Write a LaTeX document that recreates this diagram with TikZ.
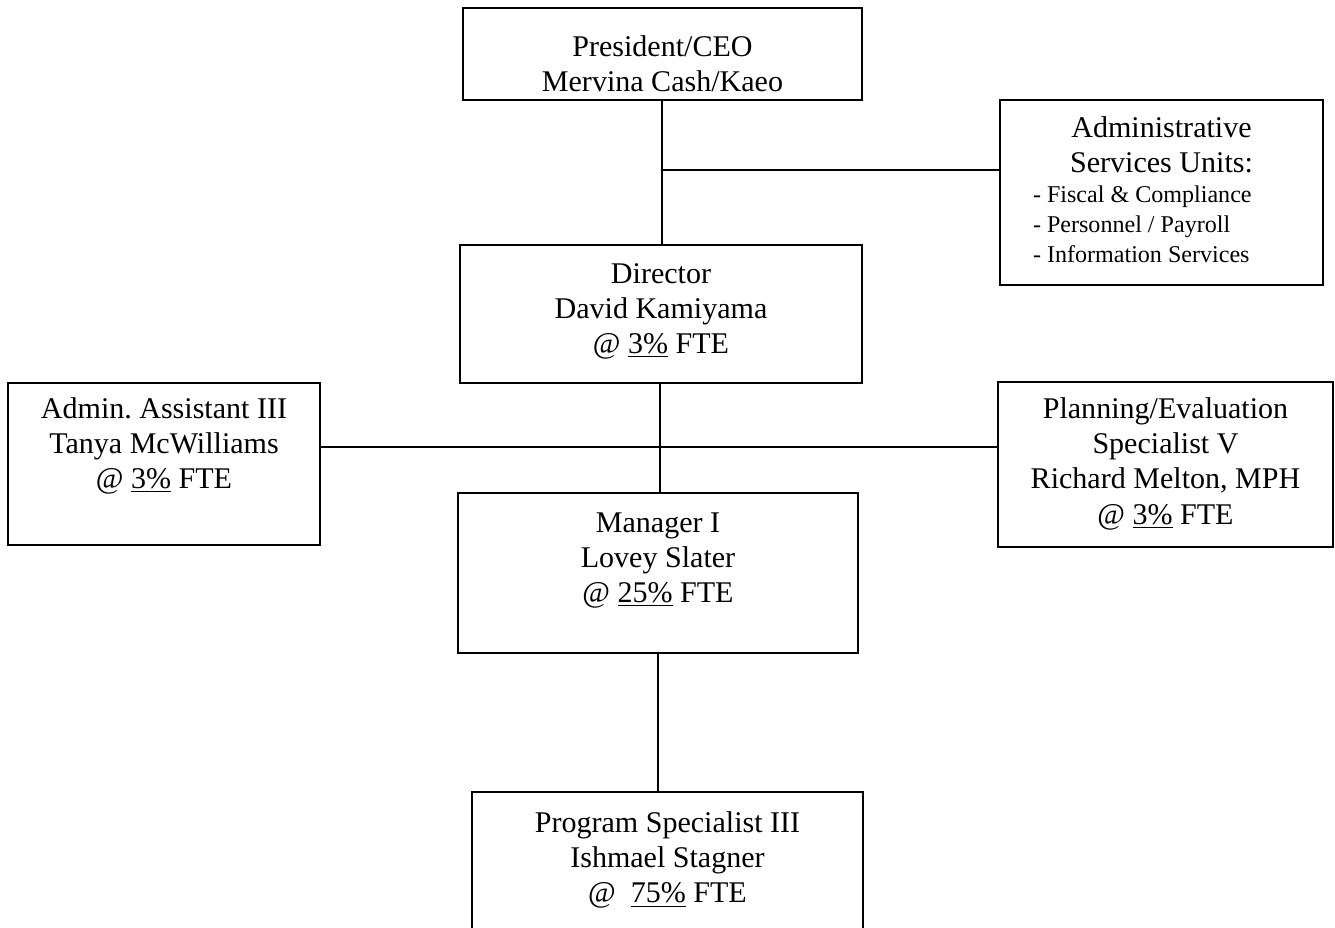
\documentclass[tikz,border=0pt]{standalone}
\usepackage{fontspec}
\setmainfont{Liberation Serif}
\usetikzlibrary{positioning,calc}
\frenchspacing
\newlength\pxu
\setlength\pxu{0.02cm}
\newcommand\orgfont{\fontsize{17.1pt}{20.2pt}\selectfont}
\newcommand\svcfont{\fontsize{13.7pt}{17.1pt}\selectfont}
% text block of a box: width, height, first baseline, lines
\newcommand\orgtext[4]{\parbox[c][#2\pxu][t]{#1\pxu}{\centering\rule{0pt}{#3\pxu}#4}}

\begin{document}
\begin{tikzpicture}[
		x=0.02cm, y=-0.02cm,
		% box with a plain black frame
		orgbox/.style={
			draw=black, line width=1.1pt, fill=white,
			inner sep=0pt, font=\orgfont
		},
		% reporting lines
		orgline/.style={draw=black, line width=1.1pt}
		]
		\clip (0,0) rectangle (1335,927);
		
		% --- 1. BOXES ---
		\node[orgbox] (ceo) at (662.5,54)
		{\orgtext{399}{92}{48}{President/CEO\\Mervina Cash/Kaeo}};
		
		\node[orgbox] (adminsvc) at (1161.5,192.5)
		{\orgtext{323}{185}{37}{Administrative\\Services Units:\par
				\raggedright\svcfont
				\hspace*{33\pxu}- Fiscal \& Compliance\\
				\hspace*{33\pxu}- Personnel / Payroll\\
				\hspace*{33\pxu}- Information Services}};
		
		\node[orgbox] (director) at (661,314)
		{\orgtext{402}{138}{38}{Director\\David Kamiyama\\@ \underline{3\%} FTE}};
		
		\node[orgbox] (asst) at (164,464)
		{\orgtext{312}{162}{35}{Admin. Assistant III\\Tanya McWilliams\\@ \underline{3\%} FTE}};
		
		\node[orgbox] (planner) at (1165.5,464.5)
		{\orgtext{335}{165}{36}{Planning/Evaluation\\Specialist V\\Richard Melton, MPH\\@ \underline{3\%} FTE}};
		
		\node[orgbox] (manager) at (658,573)
		{\orgtext{400}{160}{39}{Manager I\\Lovey Slater\\@ \underline{25\%} FTE}};
		
		% runs off the bottom of the page
		\node[orgbox] (progspec) at (667.5,876)
		{\orgtext{391}{168}{40}{Program Specialist III\\Ishmael Stagner\\@\enspace\underline{75\%} FTE}};
		
		% --- 2. LINES ---
		\coordinate (svcjoin) at (662,170);
		\coordinate (staffjoin) at (660,447);
		
		\draw[orgline] (ceo.south -| svcjoin) -- (svcjoin |- director.north);
		\draw[orgline] (svcjoin) -- (svcjoin -| adminsvc.west);
		\draw[orgline] (asst.east |- staffjoin) -- (planner.west |- staffjoin);
		\draw[orgline] (director.south -| staffjoin) -- (staffjoin |- manager.north);
		\draw[orgline] (manager.south) -- (manager.south |- progspec.north);
	\end{tikzpicture}
\end{document}
